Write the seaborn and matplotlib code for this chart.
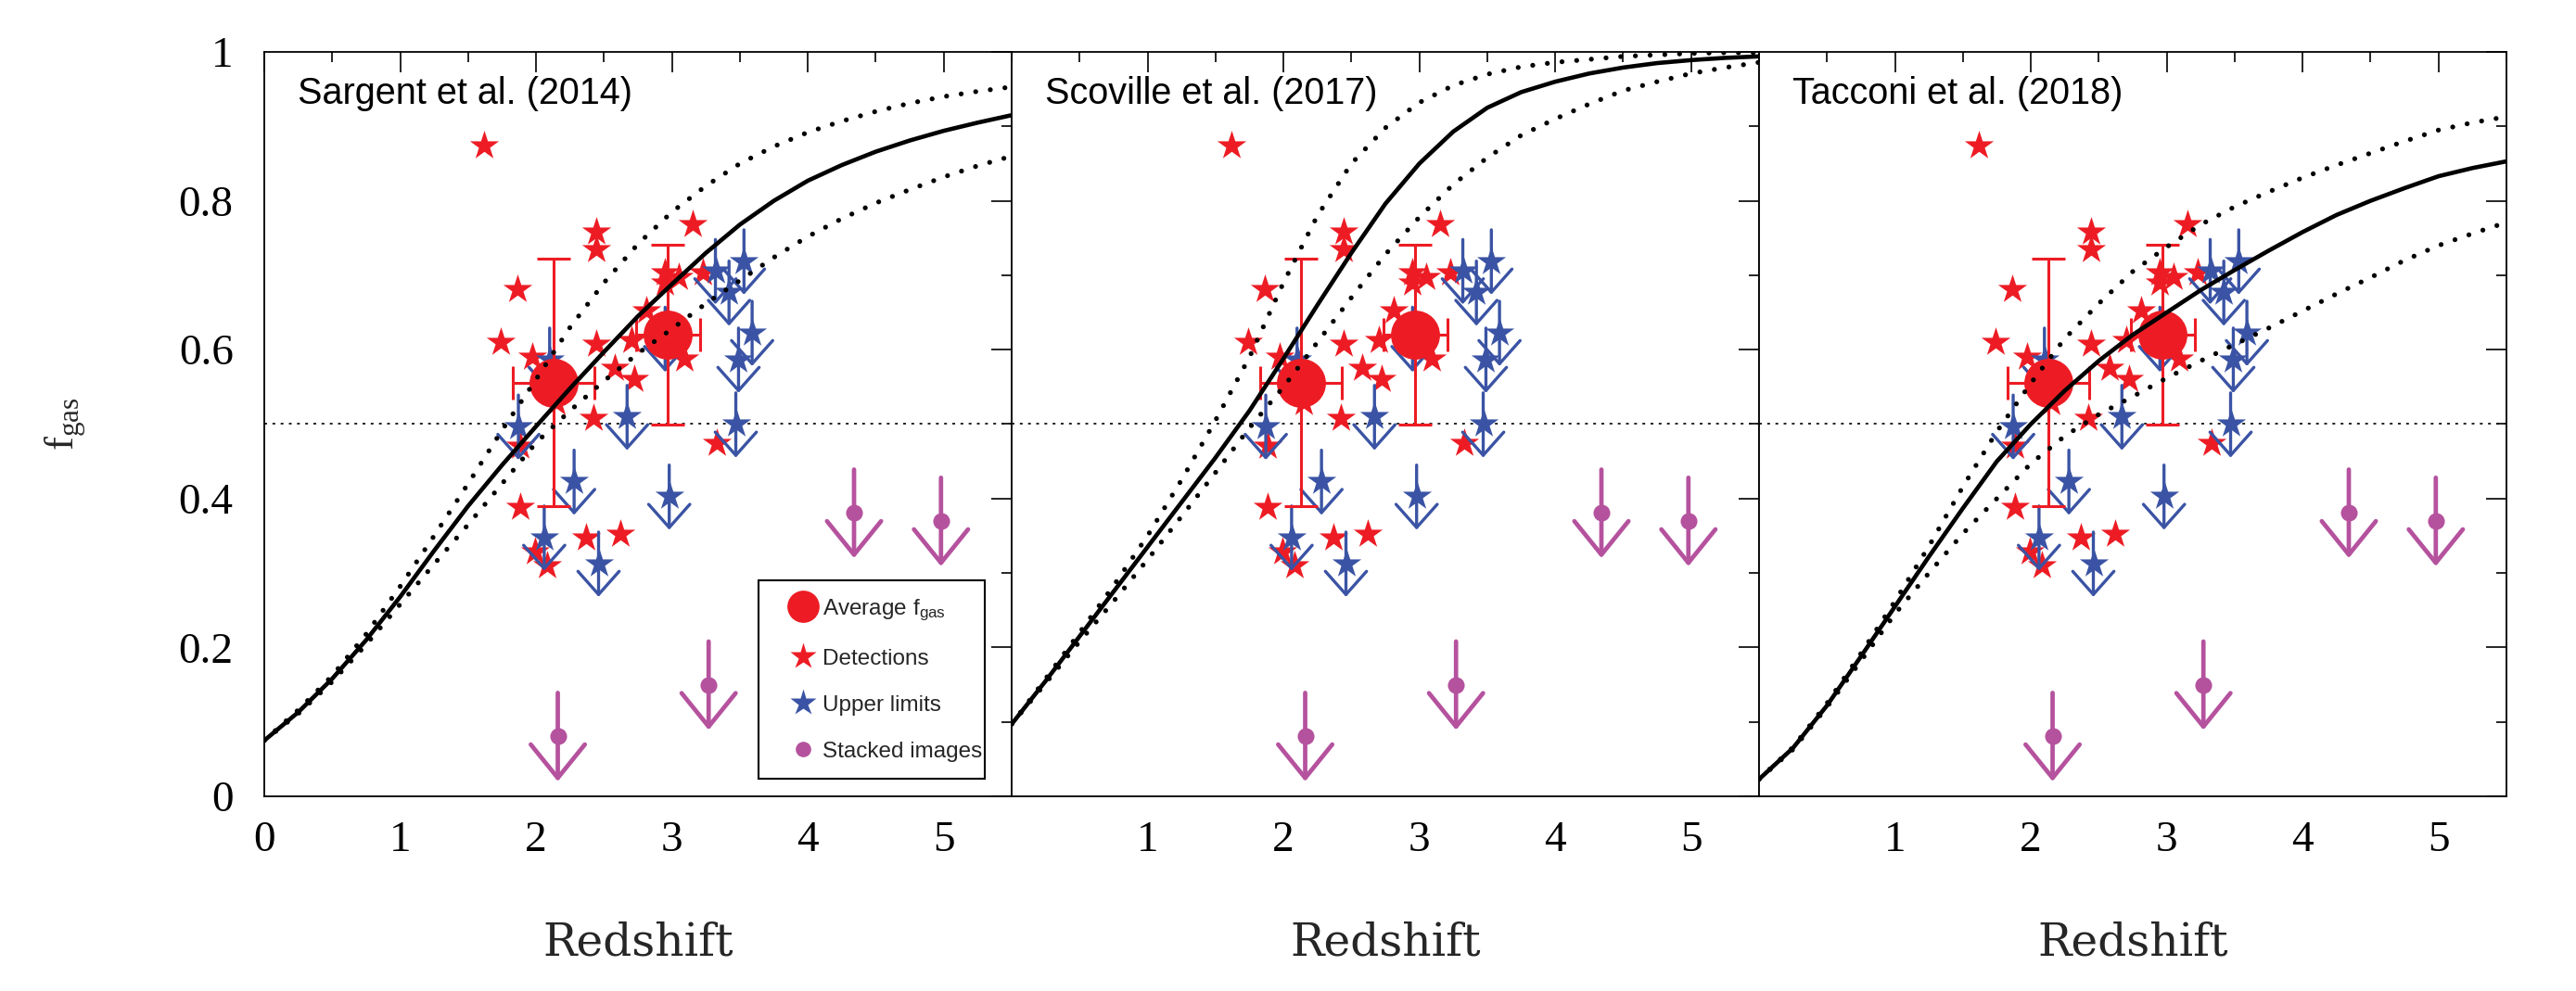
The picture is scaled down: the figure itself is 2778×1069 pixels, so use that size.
import numpy as np
import pandas as pd
import seaborn as sns
import matplotlib.pyplot as plt
from matplotlib.lines import Line2D
from matplotlib.ticker import MultipleLocator

# ==========================================
# DATA
# ==========================================

REDSHIFT_GRID = [0.0, 0.25, 0.5, 0.75, 1.0, 1.25, 1.5, 1.75, 2.0, 2.25, 2.5, 2.75,
                 3.0, 3.25, 3.5, 3.75, 4.0, 4.25, 4.5, 4.75, 5.0, 5.25, 5.5]

SARGENT_MID = [0.075, 0.113, 0.158, 0.210, 0.268, 0.330, 0.390, 0.445, 0.497, 0.548, 0.597, 0.645,
               0.688, 0.730, 0.768, 0.800, 0.827, 0.848, 0.866, 0.881, 0.894, 0.905, 0.915]
SARGENT_HI = [0.075, 0.116, 0.162, 0.218, 0.282, 0.350, 0.420, 0.492, 0.560, 0.630, 0.690, 0.742,
              0.785, 0.820, 0.850, 0.873, 0.892, 0.907, 0.920, 0.931, 0.940, 0.947, 0.953]
SARGENT_LO = [0.075, 0.111, 0.154, 0.204, 0.258, 0.312, 0.365, 0.420, 0.475, 0.518, 0.558, 0.595,
              0.628, 0.662, 0.693, 0.724, 0.752, 0.776, 0.797, 0.815, 0.832, 0.847, 0.860]

SCOVILLE_MID = [0.097, 0.155, 0.215, 0.275, 0.335, 0.395, 0.455, 0.518, 0.588, 0.660, 0.730, 0.796,
                0.850, 0.893, 0.925, 0.946, 0.960, 0.971, 0.979, 0.985, 0.989, 0.992, 0.994]
SCOVILLE_HI = [0.097, 0.158, 0.220, 0.283, 0.350, 0.425, 0.505, 0.590, 0.690, 0.780, 0.850, 0.898,
               0.932, 0.955, 0.970, 0.980, 0.986, 0.990, 0.994, 0.996, 0.998, 0.999, 0.999]
SCOVILLE_LO = [0.097, 0.152, 0.208, 0.262, 0.318, 0.376, 0.435, 0.495, 0.550, 0.610, 0.670, 0.728,
               0.778, 0.822, 0.858, 0.888, 0.910, 0.930, 0.948, 0.960, 0.971, 0.979, 0.986]

TACCONI_MID = [0.023, 0.065, 0.122, 0.188, 0.255, 0.322, 0.387, 0.450, 0.500, 0.545, 0.585, 0.620,
               0.650, 0.680, 0.707, 0.733, 0.758, 0.781, 0.800, 0.817, 0.833, 0.844, 0.853]
TACCONI_HI = [0.023, 0.066, 0.125, 0.192, 0.262, 0.336, 0.416, 0.490, 0.555, 0.615, 0.662, 0.705,
              0.738, 0.768, 0.792, 0.812, 0.831, 0.848, 0.864, 0.880, 0.895, 0.905, 0.913]
TACCONI_LO = [0.023, 0.063, 0.120, 0.182, 0.245, 0.300, 0.353, 0.400, 0.447, 0.484, 0.513, 0.537,
              0.562, 0.585, 0.607, 0.629, 0.652, 0.675, 0.697, 0.720, 0.740, 0.756, 0.771]

PANEL_TITLES = ["Sargent et al. (2014)", "Scoville et al. (2017)", "Tacconi et al. (2018)"]

# detections (red stars)
DET_Z = [1.62, 2.44, 2.44, 3.15, 1.86, 1.74, 1.97, 2.44, 2.70, 2.81, 2.58, 2.72, 2.95,
         3.05, 2.95, 3.23, 3.09, 2.42, 3.33, 2.15, 1.88, 1.88, 2.37, 2.62, 1.99, 2.08]
DET_F = [0.874, 0.758, 0.735, 0.768, 0.681, 0.610, 0.590, 0.608, 0.613, 0.652, 0.575, 0.561, 0.703,
         0.698, 0.690, 0.703, 0.588, 0.508, 0.474, 0.529, 0.471, 0.388, 0.348, 0.352, 0.329, 0.310]

# upper limits (blue stars with arrows)
LIM_Z = [3.32, 3.53, 3.42, 3.59, 3.49, 3.47, 2.67, 1.87, 2.28, 2.98, 2.06, 2.46, 2.10, 2.95]
LIM_F = [0.706, 0.719, 0.677, 0.623, 0.587, 0.500, 0.510, 0.497, 0.423, 0.403, 0.348, 0.313, 0.587, 0.615]

# stacked images (magenta upper limits)
STACK_Z = [2.16, 3.27, 4.34, 4.98]
STACK_F = [0.081, 0.150, 0.381, 0.370]

# average fgas with error bars
AVG_Z = [2.13, 2.97]
AVG_F = [0.556, 0.620]
AVG_ZERR = [0.30, 0.235]
AVG_FERR = [0.166, 0.121]

X_TICKS_FIRST = [0, 1, 2, 3, 4, 5]
X_TICKS_OTHER = [1, 2, 3, 4, 5]
Y_TICKS = [0, 0.2, 0.4, 0.6, 0.8, 1.0]
Y_TICK_LABELS = ["0", "0.2", "0.4", "0.6", "0.8", "1"]

# ==========================================
# STYLE
# ==========================================
RED = "#ED1C24"
BLUE = "#3A53A4"
MAGENTA = "#B5529E"
SERIF = "Liberation Serif"

sns.set_style("white")
plt.rcParams["font.family"] = ["Liberation Sans", "DejaVu Sans"]

curves = [
    (SARGENT_MID, SARGENT_HI, SARGENT_LO),
    (SCOVILLE_MID, SCOVILLE_HI, SCOVILLE_LO),
    (TACCONI_MID, TACCONI_HI, TACCONI_LO),
]

fig = plt.figure(figsize=(27.78, 10.69), dpi=100)
left0, bottom, width, height = 285 / 2778, 210 / 1069, 806 / 2778, 803 / 1069

for i, (title, (mid, hi, lo)) in enumerate(zip(PANEL_TITLES, curves)):
    ax = fig.add_axes([left0 + i * width, bottom, width, height])

    ax.axhline(0.5, color="black", lw=1.2, ls=(0, (1.8, 3.5)), zorder=1)

    # points
    sns.scatterplot(x=DET_Z, y=DET_F, marker="*", s=560, color=RED,
                    linewidth=0, ax=ax, zorder=3)

    for z, f in zip(LIM_Z, LIM_F):
        ax.annotate("", xy=(z, f - 0.045), xytext=(z, f + 0.042),
                    arrowprops=dict(arrowstyle="->,head_length=1.8,head_width=1.6",
                                    color=BLUE, lw=2.4, shrinkA=0, shrinkB=0,
                                    mutation_scale=10),
                    zorder=4)
    sns.scatterplot(x=LIM_Z, y=LIM_F, marker="*", s=560, color=BLUE,
                    linewidth=0, ax=ax, zorder=4)

    ax.errorbar(AVG_Z, AVG_F, xerr=AVG_ZERR, yerr=AVG_FERR, fmt="none",
                ecolor=RED, elinewidth=2.2, capsize=13, capthick=2.2, zorder=5)
    sns.scatterplot(x=AVG_Z, y=AVG_F, marker="o", s=1450, color=RED,
                    linewidth=0, ax=ax, zorder=5)

    for z, f in zip(STACK_Z, STACK_F):
        ax.annotate("", xy=(z, f - 0.061), xytext=(z, f + 0.058),
                    arrowprops=dict(arrowstyle="->,head_length=2.6,head_width=2.1",
                                    color=MAGENTA, lw=3.4, shrinkA=0, shrinkB=0,
                                    mutation_scale=10),
                    zorder=6)
    sns.scatterplot(x=STACK_Z, y=STACK_F, marker="o", s=170, color=MAGENTA,
                    linewidth=0, ax=ax, zorder=6)

    # model curves
    sns.lineplot(x=REDSHIFT_GRID, y=mid, color="black", lw=3.3, ax=ax,
                 sort=False, estimator=None, zorder=7)
    for band in (hi, lo):
        sns.lineplot(x=REDSHIFT_GRID, y=band, color="black", lw=3.8, ax=ax,
                     sort=False, estimator=None, zorder=7,
                     linestyle=(0, (0.01, 3.0)), dash_capstyle="round")

    # axes
    ax.set_xlim(0, 5.5)
    ax.set_ylim(0, 1)
    ax.xaxis.set_minor_locator(MultipleLocator(0.5))
    ax.yaxis.set_minor_locator(MultipleLocator(0.1))
    ax.set_yticks(Y_TICKS, Y_TICK_LABELS)
    ax.set_xticks(X_TICKS_FIRST if i == 0 else X_TICKS_OTHER)
    ax.tick_params(which="both", direction="in", top=True, right=True,
                   width=1.2, color="black", labelfontfamily=SERIF,
                   labelsize=34, labelcolor="black")
    ax.tick_params(which="major", length=16)
    ax.tick_params(which="minor", length=8)
    ax.tick_params(axis="x", pad=19)
    ax.tick_params(axis="y", pad=24)
    if i > 0:
        ax.tick_params(labelleft=False)
    for sp in ax.spines.values():
        sp.set_color("black")
        sp.set_linewidth(1.3)
    ax.set_xlabel("")
    ax.set_ylabel("")

    ax.text(0.045, 0.93, title, transform=ax.transAxes, fontsize=28.5,
            color="black", va="baseline", ha="left", zorder=8)
    ax.text(0.5, -0.2138, "Redshift", transform=ax.transAxes, fontsize=35,
            family="DejaVu Serif", va="baseline", ha="center")

    if i == 0:
        handles = [
            Line2D([], [], ls="none", marker="o", ms=25, color=RED, mec="none"),
            Line2D([], [], ls="none", marker="*", ms=21, color=RED, mec="none"),
            Line2D([], [], ls="none", marker="*", ms=21, color=BLUE, mec="none"),
            Line2D([], [], ls="none", marker="o", ms=12, color=MAGENTA, mec="none"),
        ]
        labels = [r"Average $\mathregular{f_{gas}}$", "Detections",
                  "Upper limits", "Stacked images"]
        leg = ax.legend(handles, labels, loc="lower left",
                        bbox_to_anchor=(0.661, 0.0237, 0.303, 0.265),
                        mode="expand", fontsize=17.5, frameon=True,
                        fancybox=False, framealpha=1, edgecolor="black",
                        borderpad=0.75, labelspacing=1.15, handlelength=2.5,
                        handletextpad=-0.4, borderaxespad=0)
        leg.get_frame().set_linewidth(1.5)
        leg.set_zorder(9)

fig.text(71 / 2778, 1 - 457 / 1069, r"$\mathregular{f_{gas}}$", rotation=90,
         ha="center", va="center", fontsize=32, family=SERIF)

fig.savefig("out.png", dpi=100)
